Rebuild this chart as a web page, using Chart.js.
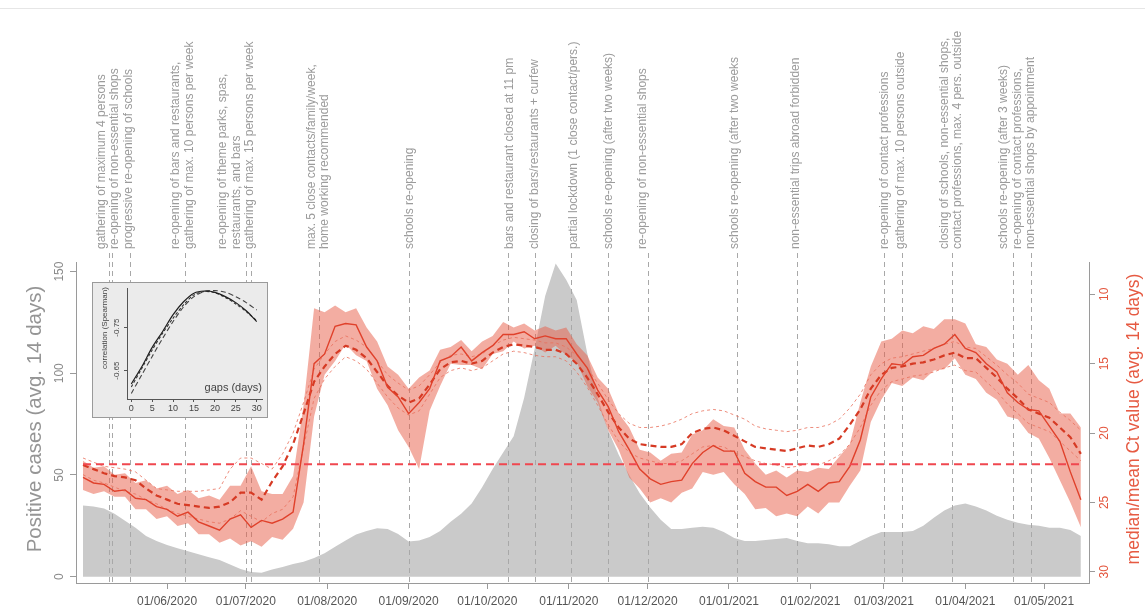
<!DOCTYPE html>
<html>
<head>
<meta charset="utf-8">
<script src="https://cdn.jsdelivr.net/npm/chart.js@4.4.1/dist/chart.umd.min.js"></script>
<style>
  html, body { margin: 0; padding: 0; background: #fff; }
  #wrap { position: relative; width: 1145px; height: 607px; overflow: hidden; }
  #topRule { position: absolute; left: 0; top: 8px; width: 1145px; height: 0; border-top: 1px solid #e6e6e6; }
  #main { position: absolute; left: 0; top: 0; }
  #insetBox { position: absolute; left: 92px; top: 282px; width: 176px; height: 136px; box-sizing: border-box;
              border: 1px solid #9a9a9a; background: #ebebeb; }
  #inset { position: absolute; left: 0; top: 0; }
</style>
</head>
<body>
<div id="wrap">
  <div id="topRule"></div>
  <canvas id="main" width="1145" height="607"></canvas>
  <div id="insetBox"><canvas id="inset" width="174" height="134"></canvas></div>
</div>
<script>
// ---- time base: day offsets from 30/04/2020, one sample every 4 days ----
const FIRST_DAY = '2020-04-30';
const SAMPLE_STEP = 4;
const SAMPLE_COUNT = 96;
const days = Array.from({ length: SAMPLE_COUNT }, (_, i) => i * SAMPLE_STEP);

// positive cases, 14-day average (left axis)
const cases = [
  35, 34.5, 33.5, 31, 27.5, 24, 20, 17.5, 15.6, 14,
  12.5, 11, 9.6, 8.2, 6, 3.8, 2.3, 2.0, 3.5, 4.8,
  6.2, 7.3, 9.2, 11.5, 14.7, 17.8, 20.8, 22.5, 23.8, 23.5,
  21, 17.3, 17.8, 19.5, 22.5, 27, 31, 36, 44, 53,
  61, 69, 88, 112, 138, 154, 146, 136, 110, 88,
  72, 60, 50, 41, 34, 28, 23.5, 23.5, 24, 24.5,
  24, 22, 19, 17.5, 17.5, 18, 18.5, 19, 17.5, 16.5,
  16.5, 16, 15, 15, 17.5, 20, 22, 22, 22, 22.5,
  25, 29, 32.5, 35, 36, 34.5, 32.5, 30, 28, 26.5,
  25.5, 25, 24, 24, 23, 20
];

// median Ct value, 14-day average (right axis)
const ctMedian = [
  23.2, 23.6, 23.7, 24.2, 24.1, 24.7, 24.8, 25.3, 25.5, 26.0,
  25.7, 26.4, 26.7, 27.0, 26.2, 25.9, 26.8, 26.3, 26.5, 26.2,
  25.7, 20.8, 15.0, 14.3, 12.3, 12.1, 12.2, 13.8, 14.8, 16.7,
  17.4, 18.6, 17.8, 16.8, 14.8, 14.5, 13.8, 14.8, 14.2, 13.7,
  12.9, 12.9, 12.7, 13.2, 13.0, 13.2, 13.2, 14.3, 15.3, 16.9,
  18.1, 19.9, 21.2, 22.6, 23.3, 23.7, 23.5, 23.4, 22.2, 21.4,
  20.9, 21.3, 21.3, 22.9, 23.5, 23.9, 23.9, 24.5, 24.2, 23.7,
  24.2, 23.6, 23.5, 22.4, 20.5, 17.4, 16.1, 15.0, 15.1, 14.5,
  14.4, 13.9, 13.6, 12.9, 13.9, 14.2, 15.0, 15.6, 17.1, 17.8,
  18.3, 18.4, 19.5, 20.6, 22.8, 24.8
];

// mean Ct value, 14-day average
const ctMean = [
  22.3, 22.6, 22.9, 23.1, 23.2, 23.4, 24.0, 24.5, 24.8, 25.1,
  25.2, 25.3, 25.4, 25.3, 25.0, 24.3, 24.3, 24.8, 23.5, 22.4,
  20.8, 18.6, 16.3, 15.2, 14.3, 13.7, 14.0, 14.6, 15.6, 16.6,
  17.3, 17.8, 17.5, 16.5, 15.4, 14.9, 14.8, 15.0, 14.8, 14.2,
  13.8, 13.6, 13.7, 13.8, 14.0, 14.0, 14.3, 15.0, 16.0, 17.2,
  18.5, 19.6, 20.4, 20.8, 20.9, 21.0, 21.0, 20.8, 20.0, 19.7,
  19.6, 19.8, 20.2, 20.6, 21.0, 21.1, 21.2, 21.3, 21.1, 20.9,
  21.0, 20.8, 20.4, 19.4, 18.3, 16.8, 15.8, 15.3, 15.2, 15.0,
  14.9, 14.7, 14.4, 14.2, 14.6, 14.6, 15.3, 16.0, 16.8, 17.5,
  18.3, 18.6, 18.9, 19.6, 20.3, 21.5
];

// interval around the mean (thin dashed lines)
const ctMeanLower = [
  21.8, 22.1, 22.4, 22.5, 22.6, 22.8, 23.4, 24.0, 24.1, 24.2,
  24.2, 24.2, 24.1, 24.0, 22.6, 21.8, 21.8, 22.2, 22.6, 21.5,
  20.0, 17.8, 15.4, 14.3, 13.4, 13.0, 13.3, 13.8, 14.8, 15.8,
  16.4, 16.9, 16.6, 15.8, 14.9, 14.4, 14.3, 14.5, 14.3, 13.7,
  13.3, 13.1, 13.2, 13.3, 13.5, 13.5, 13.8, 14.4, 15.3, 16.4,
  17.6, 18.6, 19.3, 19.6, 19.6, 19.5, 19.3, 19.0, 18.6, 18.4,
  18.3, 18.4, 18.7, 19.0, 19.5, 19.7, 19.8, 19.9, 19.8, 19.6,
  19.6, 19.4, 19.0, 18.2, 17.2, 15.8, 15.0, 14.6, 14.5, 14.3,
  14.1, 13.9, 13.6, 13.4, 13.8, 13.9, 14.5, 15.1, 15.8, 16.4,
  17.2, 17.5, 17.8, 18.5, 19.1, 19.8
];
const ctMeanUpper = [
  23.0, 23.4, 23.6, 23.9, 24.2, 24.4, 24.8, 25.1, 25.5, 25.8,
  26.0, 26.2, 26.4, 26.5, 26.2, 25.6, 26.0, 26.4, 25.8, 25.5,
  24.6, 21.0, 17.5, 16.1, 15.2, 14.5, 14.8, 15.4, 16.4, 17.4,
  18.2, 18.7, 18.4, 17.2, 16.0, 15.5, 15.3, 15.5, 15.3, 14.8,
  14.3, 14.1, 14.2, 14.4, 14.5, 14.5, 14.8, 15.6, 16.7, 18.0,
  19.4, 20.6, 21.4, 21.8, 22.0, 22.2, 22.2, 22.0, 21.5, 21.0,
  20.9, 21.0, 21.4, 21.7, 22.0, 22.2, 22.3, 22.5, 22.4, 22.2,
  22.3, 22.0, 21.6, 20.8, 19.6, 18.0, 16.9, 16.3, 16.1, 15.9,
  15.8, 15.6, 15.3, 15.1, 15.5, 15.6, 16.3, 17.0, 17.9, 18.6,
  19.3, 19.6, 19.9, 20.6, 21.3, 22.0
];

// shaded interval around the median
const ctBandLow = [
  22.0, 22.5, 22.4, 23.0, 22.9, 23.6, 23.4, 24.0, 23.8, 24.4,
  24.1, 24.7, 24.5, 24.8, 23.8, 23.8, 22.4, 24.2, 24.4, 24.4,
  23.1, 18.0, 11.0, 11.3, 10.8, 11.3, 11.0, 12.4, 13.4, 15.2,
  15.8, 16.8, 16.0, 15.5, 14.0, 13.8, 13.3, 14.1, 13.4, 13.0,
  12.0, 12.4, 12.1, 12.6, 12.3, 12.6, 12.4, 13.6, 14.4, 16.0,
  16.8, 18.6, 19.6, 21.2, 21.4, 22.0, 21.5, 21.4, 20.1, 19.8,
  19.0, 19.5, 19.6, 21.2, 22.2, 23.0, 22.7, 23.2, 22.7, 22.8,
  22.5, 22.6, 21.7, 20.8, 17.8, 15.2, 13.4, 13.2, 12.6, 12.8,
  12.3, 12.5, 11.8, 11.8, 12.1, 13.6, 13.8, 14.7, 15.0, 15.8,
  15.1, 16.2, 16.8, 18.6, 18.6, 19.6
];
const ctBandHigh = [
  24.1, 24.4, 24.2, 24.6, 24.6, 25.5, 25.5, 26.2, 26.0, 26.7,
  26.5, 27.3, 27.3, 27.9, 27.6, 28.1, 27.8, 28.2, 27.5, 27.7,
  26.9, 25.0, 18.8, 15.8, 14.8, 13.6, 14.4, 14.8, 16.8, 18.0,
  19.8, 21.0, 22.6, 18.4, 16.6, 15.0, 15.1, 15.1, 15.4, 14.3,
  14.1, 13.4, 13.9, 13.7, 14.2, 13.7, 14.4, 14.9, 16.6, 17.8,
  19.8, 21.2, 23.2, 24.0, 25.0, 24.7, 25.0, 24.3, 24.0, 22.8,
  23.0, 22.8, 23.7, 24.4, 25.5, 25.4, 26.0, 25.8, 26.0, 25.3,
  25.8, 25.0, 25.0, 23.8, 22.7, 19.2, 17.6, 16.4, 16.6, 16.0,
  16.2, 15.5, 15.4, 14.6, 15.8, 16.1, 17.1, 17.6, 18.8, 19.0,
  20.0, 20.4, 21.8, 23.4, 25.0, 26.8
];

// reference Ct level (horizontal dashed line)
const ctReference = 22.25;

// month ticks on the time axis
const monthTicks = ['2020-06-01', '2020-07-01', '2020-08-01', '2020-09-01', '2020-10-01', '2020-11-01',
                    '2020-12-01', '2021-01-01', '2021-02-01', '2021-03-01', '2021-04-01', '2021-05-01'];
const leftTicks = [0, 50, 100, 150];
const rightTicks = [10, 15, 20, 25, 30];

// measures taken over the period
const measureDates = [
  '2020-05-10', '2020-05-11', '2020-05-18', '2020-06-08', '2020-07-01', '2020-07-03', '2020-07-29',
  '2020-09-01', '2020-10-09', '2020-10-19', '2020-11-02', '2020-11-16', '2020-12-01', '2021-01-04',
  '2021-01-27', '2021-03-01', '2021-03-08', '2021-03-27', '2021-04-19', '2021-04-26'
];
const measureTexts = [
  ['gathering of maximum 4 persons'],
  ['re-opening of non-essential shops'],
  ['progressive re-opening of schools'],
  ['re-opening of bars and restaurants,', 'gathering of max. 10 persons per week'],
  ['re-opening of theme parks, spas,', 'restaurants, and bars'],
  ['gathering of max. 15 persons per week'],
  ['max. 5 close contacts/family/week,', 'home working recommended'],
  ['schools re-opening'],
  ['bars and restaurant closed at 11 pm'],
  ['closing of bars/restaurants + curfew'],
  ['partial lockdown (1 close contact/pers.)'],
  ['schools re-opening (after two weeks)'],
  ['re-opening of non-essential shops'],
  ['schools re-opening (after two weeks'],
  ['non-essential trips abroad forbidden'],
  ['re-opening of contact professions'],
  ['gathering of max. 10 persons outside'],
  ['closing of schools, non-essential shops,', 'contact professions, max. 4 pers. outside'],
  ['schools re-opening (after 3 weeks)'],
  ['re-opening of contact professions,', 'non-essential shops by appointment']
];

// inset: correlation against time gap
const gapDays = [0, 2.5, 5, 7.5, 10, 12.5, 15, 17.5, 20, 22.5, 25, 27.5, 30];
const corrMedian = [-0.619, -0.659, -0.704, -0.741, -0.780, -0.810, -0.830, -0.835, -0.832, -0.822, -0.808, -0.789, -0.764];
const corrMean   = [-0.612, -0.655, -0.698, -0.737, -0.772, -0.803, -0.826, -0.834, -0.831, -0.820, -0.805, -0.787, -0.766];
const corrAlt    = [-0.597, -0.640, -0.683, -0.725, -0.764, -0.798, -0.822, -0.834, -0.836, -0.832, -0.822, -0.808, -0.791];
const gapTicks = [0, 5, 10, 15, 20, 25, 30];
const corrTicks = [-0.75, -0.65];

// ---------------------------------------------------------------------------
const FONT = '"Liberation Sans", Arial, Helvetica, sans-serif';
Chart.defaults.font.family = FONT;

function toDay(s) {
  const [y, m, d] = s.split('-').map(Number);
  const [y0, m0, d0] = FIRST_DAY.split('-').map(Number);
  return Math.round((Date.UTC(y, m - 1, d) - Date.UTC(y0, m0 - 1, d0)) / 86400000);
}
function fmtDate(s) {
  const [y, m, d] = s.split('-');
  return d + '/' + m + '/' + y;
}
const series = arr => arr.map((v, i) => ({ x: days[i], y: v }));

const lastDay = days[days.length - 1];
const ticksOf = vals => vals.map(v => ({ value: v }));

// layout of the annotation block above the plot
const NOTE_BASE_Y = 249;
const NOTE_LINE_GAP = 13.5;
const noteShift = [-7.6, 3.1, -2, -2.5, -16.3, -1, -1, 0.7, 1, 0, 2, 0, -5, -2, -2, 1, -1.5, -1, -9, -6.7];

const measureLines = {
  id: 'measureLines',
  afterDatasetDraw(chart, args) {
    if (chart.data.datasets[args.index].label !== 'cases') return;
    const { ctx, chartArea } = chart;
    const xs = chart.scales.x;
    ctx.save();
    ctx.strokeStyle = '#a8a8a8';
    ctx.lineWidth = 1;
    ctx.setLineDash([5, 4]);
    measureDates.forEach(d => {
      const px = Math.round(xs.getPixelForValue(toDay(d))) + 0.5;
      ctx.beginPath();
      ctx.moveTo(px, 253);
      ctx.lineTo(px, chartArea.bottom);
      ctx.stroke();
    });
    ctx.restore();
  }
};

const textLayer = {
  id: 'textLayer',
  afterDraw(chart) {
    const { ctx } = chart;
    const xs = chart.scales.x;
    ctx.save();
    ctx.font = '12px ' + FONT;
    ctx.fillStyle = '#9b9b9b';
    ctx.textAlign = 'left';
    ctx.textBaseline = 'middle';
    measureDates.forEach((d, i) => {
      const lines = measureTexts[i];
      const cx = xs.getPixelForValue(toDay(d)) + noteShift[i];
      lines.forEach((t, j) => {
        const lx = cx + (j - (lines.length - 1) / 2) * NOTE_LINE_GAP;
        ctx.save();
        ctx.translate(lx, NOTE_BASE_Y);
        ctx.rotate(-Math.PI / 2);
        ctx.fillText(t, 0, 0);
        ctx.restore();
      });
    });
    // axis titles
    ctx.textAlign = 'center';
    ctx.save();
    ctx.translate(35, 419);
    ctx.rotate(-Math.PI / 2);
    ctx.font = '20.5px ' + FONT;
    ctx.fillStyle = '#959595';
    ctx.fillText('Positive cases (avg. 14 days)', 0, 0);
    ctx.restore();
    ctx.save();
    ctx.translate(1134, 419);
    ctx.rotate(-Math.PI / 2);
    ctx.font = '17.5px ' + FONT;
    ctx.fillStyle = '#e65a42';
    ctx.fillText('median/mean Ct value (avg. 14 days)', 0, 0);
    ctx.restore();
    ctx.restore();
  }
};

const AXIS_GREY = '#9a9a9a';

new Chart(document.getElementById('main'), {
  type: 'line',
  data: {
    datasets: [
      { label: 'reference', data: [{ x: 0, y: ctReference }, { x: lastDay, y: ctReference }], yAxisID: 'ct',
        borderColor: '#f0474f', borderWidth: 1.8, borderDash: [8, 5], pointRadius: 0, fill: false, order: 1 },
      { label: 'median', data: series(ctMedian), yAxisID: 'ct',
        borderColor: '#e0412b', borderWidth: 1.4, pointRadius: 0, fill: false, order: 2 },
      { label: 'mean', data: series(ctMean), yAxisID: 'ct',
        borderColor: '#d63a24', borderWidth: 2.2, borderDash: [6, 4], pointRadius: 0, fill: false, order: 3 },
      { label: 'mean lower', data: series(ctMeanLower), yAxisID: 'ct',
        borderColor: '#e8705c', borderWidth: 0.8, borderDash: [3, 3], pointRadius: 0, fill: false, order: 4 },
      { label: 'mean upper', data: series(ctMeanUpper), yAxisID: 'ct',
        borderColor: '#e8705c', borderWidth: 0.8, borderDash: [3, 3], pointRadius: 0, fill: false, order: 5 },
      { label: 'band low', data: series(ctBandLow), yAxisID: 'ct',
        borderColor: 'rgba(0,0,0,0)', borderWidth: 0, pointRadius: 0, fill: false, order: 6 },
      { label: 'band high', data: series(ctBandHigh), yAxisID: 'ct',
        borderColor: 'rgba(0,0,0,0)', borderWidth: 0, pointRadius: 0,
        backgroundColor: 'rgba(232,92,70,0.5)', fill: 5, order: 7 },
      { label: 'cases', data: series(cases), yAxisID: 'y',
        borderColor: 'rgba(0,0,0,0)', borderWidth: 0, pointRadius: 0,
        backgroundColor: '#cacaca', fill: 'origin', order: 8 }
    ]
  },
  options: {
    responsive: false,
    animation: false,
    devicePixelRatio: 1,
    events: [],
    layout: { padding: { top: 262, left: 0, right: 0, bottom: 0 } },
    elements: { line: { tension: 0 } },
    plugins: { legend: { display: false }, tooltip: { enabled: false } },
    scales: {
      x: {
        type: 'linear', min: -2.67, max: 383.1, bounds: 'data',
        afterBuildTicks: s => { s.ticks = ticksOf(monthTicks.map(toDay)); },
        afterFit: s => { s.height = 24; },
        ticks: { autoSkip: false, maxRotation: 0, minRotation: 0, padding: 5.5, color: '#555',
                 font: { size: 12 }, callback: (v, i) => fmtDate(monthTicks[i]) },
        grid: { drawOnChartArea: false, drawTicks: true, tickLength: 6, color: AXIS_GREY },
        border: { display: true, color: AXIS_GREY, width: 1 }
      },
      y: {
        type: 'linear', position: 'left', min: -3.1, max: 154.7, bounds: 'data',
        afterBuildTicks: s => { s.ticks = ticksOf(leftTicks); },
        afterFit: s => { s.width = 76; },
        ticks: { minRotation: 90, maxRotation: 90, crossAlign: 'center', padding: 0, color: '#8a8a8a',
                 font: { size: 12 } },
        grid: { drawOnChartArea: false, drawTicks: true, tickLength: 6, color: AXIS_GREY },
        border: { display: true, color: AXIS_GREY, width: 1 }
      },
      ct: {
        type: 'linear', position: 'right', reverse: true, min: 7.67, max: 30.81, bounds: 'data',
        afterBuildTicks: s => { s.ticks = ticksOf(rightTicks); },
        afterFit: s => { s.width = 56; },
        ticks: { minRotation: 90, maxRotation: 90, crossAlign: 'center', padding: 3, color: '#e4573f',
                 font: { size: 12 } },
        grid: { drawOnChartArea: false, drawTicks: true, tickLength: 6, color: AXIS_GREY },
        border: { display: true, color: AXIS_GREY, width: 1 }
      }
    }
  },
  plugins: [measureLines, textLayer]
});

// ---- inset: Spearman correlation vs. gap ----
const insetText = {
  id: 'insetText',
  afterDraw(chart) {
    const { ctx } = chart;
    ctx.save();
    ctx.fillStyle = '#444';
    ctx.textBaseline = 'middle';
    ctx.save();
    ctx.translate(12, 45);
    ctx.rotate(-Math.PI / 2);
    ctx.textAlign = 'center';
    ctx.font = '8px ' + FONT;
    ctx.fillText('correlation (Spearman)', 0, 0);
    ctx.restore();
    ctx.textAlign = 'right';
    ctx.font = '11px ' + FONT;
    ctx.fillText('gaps (days)', 169, 105);
    ctx.restore();
  }
};

const gapSeries = arr => arr.map((v, i) => ({ x: gapDays[i], y: v }));

new Chart(document.getElementById('inset'), {
  type: 'line',
  data: {
    datasets: [
      { data: gapSeries(corrMedian), borderColor: '#1e1e1e', borderWidth: 1.2, pointRadius: 0, fill: false },
      { data: gapSeries(corrMean), borderColor: '#333', borderWidth: 1.1, borderDash: [3, 2], pointRadius: 0, fill: false },
      { data: gapSeries(corrAlt), borderColor: '#444', borderWidth: 1.1, borderDash: [5, 3], pointRadius: 0, fill: false }
    ]
  },
  options: {
    responsive: false,
    animation: false,
    devicePixelRatio: 1,
    events: [],
    layout: { padding: { top: 5, right: 5, left: 0, bottom: 0 } },
    elements: { line: { tension: 0.3 } },
    plugins: { legend: { display: false }, tooltip: { enabled: false } },
    scales: {
      x: {
        type: 'linear', min: -1.03, max: 31.27, bounds: 'data',
        afterBuildTicks: s => { s.ticks = ticksOf(gapTicks); },
        afterFit: s => { s.height = 18; },
        ticks: { autoSkip: false, maxRotation: 0, minRotation: 0, padding: 1, color: '#444', font: { size: 9 } },
        grid: { drawOnChartArea: false, drawTicks: true, tickLength: 3, color: '#555' },
        border: { display: true, color: '#555', width: 1 }
      },
      y: {
        type: 'linear', reverse: true, min: -0.842, max: -0.584, bounds: 'data',
        afterBuildTicks: s => { s.ticks = ticksOf(corrTicks); },
        afterFit: s => { s.width = 34; },
        ticks: { minRotation: 90, maxRotation: 90, crossAlign: 'center', padding: -2, color: '#444',
                 font: { size: 8 }, callback: v => v.toFixed(2) },
        grid: { drawOnChartArea: false, drawTicks: true, tickLength: 3, color: '#555' },
        border: { display: true, color: '#555', width: 1 }
      }
    }
  },
  plugins: [insetText]
});
</script>
</body>
</html>
